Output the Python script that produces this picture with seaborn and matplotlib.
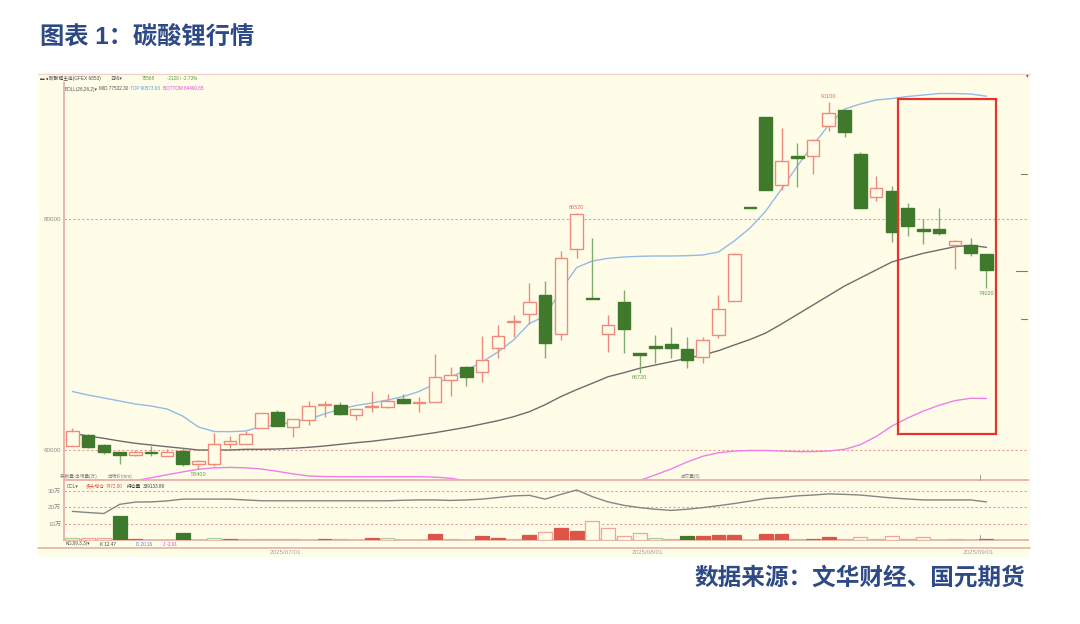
import matplotlib
matplotlib.use("Agg")
import matplotlib.pyplot as plt
from matplotlib.patches import Rectangle
from matplotlib.lines import Line2D
import seaborn as sns
import pandas as pd
import numpy as np

# ---- data ----
dates = pd.bdate_range("2025-06-12", "2025-09-02")   # 59 daily candles

opens = [60400, 61300, 60500, 59900, 59650, 59890, 59550, 59970, 58830, 58830,
         60550, 60550, 61900, 63360, 62030, 62620, 63900, 63960, 63100, 63750,
         63730, 64470, 64100, 64190, 66100, 67200, 66750, 68800, 71100, 71800,
         73420, 70090, 77350, 73200, 70030, 72850, 68440, 69000, 69230, 68720,
         68090, 69940, 72930, 81000, 88740, 82900, 85380, 85380, 88030, 89380,
         85610, 81850, 82390, 80910, 79150, 79150, 77720, 77720, 76920]
highs = [61950, 61450, 60600, 59900, 60000, 60400, 60150, 60250, 59200, 61550,
         61250, 61700, 63250, 63450, 62700, 64300, 64300, 64200, 63600, 65100,
         64900, 64900, 64600, 68290, 67240, 67250, 69850, 70850, 71650, 74420,
         74590, 77200, 80520, 78350, 71650, 73870, 68440, 69940, 70660, 69800,
         69800, 73420, 77000, 81000, 88740, 87840, 86520, 86900, 90100, 89400,
         85750, 83680, 82850, 81390, 80000, 80920, 78200, 78350, 76920]
lows = [60400, 60200, 59700, 58830, 59500, 59500, 59480, 58690, 58400, 58700,
        60200, 60550, 61900, 62100, 61170, 62200, 62880, 63100, 62620, 63300,
        63700, 64050, 63300, 64190, 64680, 65530, 65870, 68000, 69800, 70940,
        67950, 69500, 76640, 73050, 68520, 68380, 66720, 67520, 67950, 67090,
        67520, 69700, 72900, 80950, 82480, 82480, 82700, 83900, 87600, 87090,
        80900, 81540, 77970, 78490, 77780, 78630, 75640, 76780, 74020]
closes = [61700, 60300, 59830, 59650, 59890, 59750, 59890, 58830, 59060, 60600,
          60830, 61400, 63250, 62110, 62680, 63820, 64000, 63160, 63600, 63800,
          64250, 64080, 64200, 66350, 66520, 66300, 67800, 69890, 71150, 72800,
          69290, 76640, 80430, 73100, 70800, 70510, 68230, 68800, 68860, 67800,
          69510, 72220, 76920, 80950, 82480, 84980, 85210, 86810, 89090, 87460,
          80920, 82680, 78830, 79340, 78910, 78780, 78060, 77070, 75568]

# BOLL(26,26,2)
boll_mid = [61481, 61248, 61049, 60816, 60618, 60471, 60325, 60187, 60040, 60040,
            60040, 60100, 60100, 60126, 60187, 60273, 60385, 60532, 60670, 60791,
            60963, 61136, 61334, 61533, 61766, 61999, 62284, 62569, 62914, 63345,
            63950, 64650, 65250, 65800, 66366, 66711, 67091, 67376, 67661, 67954,
            68239, 68610, 69102, 69576, 70137, 70914, 71734, 72554, 73374, 74194,
            74884, 75575, 76265, 76654, 77016, 77301, 77586, 77700, 77532]
boll_top = [65089, 64787, 64528, 64269, 64010, 63837, 63578, 62974, 62025, 61636,
            61619, 61680, 62068, 62197, 62456, 62715, 63147, 63578, 63880, 64096,
            64355, 64657, 65089, 65736, 66340, 66944, 67635, 68498, 69533, 70957,
            71605, 73849, 75790, 76351, 76584, 76696, 76757, 76783, 76783, 76809,
            76869, 77128, 78077, 79199, 80666, 82565, 84550, 86362, 88088, 89469,
            89900, 90245, 90375, 90547, 90677, 90806, 90806, 90763, 90574]
boll_bottom = [56900, 57000, 57100, 57250, 57400, 57650, 57900, 58150, 58380, 58500,
               58540, 58500, 58400, 58200, 57980, 57800, 57750, 57740, 57730, 57730,
               57735, 57740, 57735, 57700, 57600, 57380, 57100, 56700, 56300, 56000,
               55700, 55400, 55200, 55500, 56100, 56700, 57400, 57900, 58400, 59000,
               59500, 59800, 59950, 60000, 60000, 59950, 59900, 59900, 59950, 60100,
               60500, 61200, 62100, 62800, 63400, 63900, 64300, 64500, 64490]

# CCL panel: open-interest change bars (万手) and their kind, open interest line (万手)
ccl_bars = [1.2, 1.2, 1.2, 14.7, 0.9, 0, 0, 4.5, 0, 1.2,
            0.9, 0.9, 0.9, 0.9, 0.9, 0, 0.9, 0.9, 0, 1.5,
            1.2, 0, 0, 3.6, 0.7, 0, 2.5, 1.5, 0.6, 2.9,
            5.0, 7.3, 5.2, 11.5, 7.3, 2.5, 4.2, 1.5, 0.6, 2.5,
            2.5, 2.9, 2.9, 0, 3.6, 3.6, 0.7, 0.9, 2.1, 0.7,
            1.9, 0.7, 2.7, 0.6, 1.7, 0, 0.7, 0, 0.7]
# R = 红实  r = 红空心  G = 绿实  g = 绿空心
ccl_kind = ['g', 'r', 'r', 'G', 'R', '', '', 'G', '', 'g',
            'R', 'g', 'g', 'r', 'g', '', 'R', 'r', '', 'R',
            'g', '', '', 'R', 'g', '', 'R', 'R', 'r', 'R',
            'r', 'R', 'R', 'r', 'r', 'r', 'r', 'g', 'g', 'G',
            'R', 'R', 'R', '', 'R', 'R', 'g', 'R', 'R', 'r',
            'r', 'g', 'r', 'r', 'r', '', 'r', '', 'R']
open_interest = [17.5, 16.8, 16.2, 21.8, 23.2, 23.3, 23.9, 25.0, 25.0, 25.0,
                 25.0, 24.5, 24.0, 24.0, 24.0, 24.0, 24.0, 24.0, 24.0, 24.0,
                 24.0, 24.3, 24.5, 24.5, 24.2, 24.5, 25.0, 26.0, 27.0, 27.3,
                 25.0, 27.9, 30.6, 26.5, 23.3, 21.2, 19.8, 18.8, 18.1, 18.8,
                 19.8, 21.0, 22.3, 23.8, 25.4, 26.0, 27.0, 27.5, 28.2, 27.9,
                 27.5, 26.6, 25.7, 25.1, 24.5, 24.5, 24.5, 24.5, 23.3]

hi_lo_marks = [(48, 90100, 'hi'), (32, 80520, 'hi'), (8, 58400, 'lo'),
               (36, 66720, 'lo'), (58, 74020, 'lo')]
date_ticks = ["2025-07-01", "2025-08-01", "2025-09-01"]

# ---- style ----
BG = '#fffde8'
RED = '#ef8a7c'
RED_SOLID = '#de5448'
GREEN = '#3f7a2c'
GREEN_LIGHT = '#a6cf98'
NAVY = '#2e4a86'
GRID = '#ef9a92'
FRAME = '#e6b2a4'
GREY_TXT = '#8c8c8c'

sns.set_style("white")
plt.rcParams['font.family'] = ['Liberation Sans', 'Noto Sans CJK SC', 'DejaVu Sans']

W, H = 1080, 624
fig = plt.figure(figsize=(W / 100, H / 100), dpi=100, facecolor='white')


def fx(px):
    return px / W


def fy(py):
    return 1 - py / H


fig.patches.append(Rectangle((fx(38), fy(557)), fx(1030) - fx(38), fy(73) - fy(557),
                             transform=fig.transFigure, facecolor=BG,
                             edgecolor='none', zorder=-5))

x = np.arange(len(dates))
o, h, l, c = map(np.asarray, (opens, highs, lows, closes))
up = c >= o

# ---- price panel ----
ax = fig.add_axes([fx(64), fy(480), fx(1028) - fx(64), fy(83) - fy(480)])
ax.set_facecolor('none')
ax.set_xlim(-0.53, 60.64)
ax.set_ylim(57451, 91713)

for level in (60000, 80000):
    ax.axhline(level, color=GRID, ls=(0, (2, 2)), lw=0.8, zorder=1)

sns.lineplot(x=x, y=boll_top, ax=ax, color='#92bbe6', lw=1, zorder=2)
sns.lineplot(x=x, y=boll_mid, ax=ax, color='#6c6c6c', lw=1, zorder=2)
sns.lineplot(x=x, y=boll_bottom, ax=ax, color='#f07ee8', lw=1, zorder=2)

body_lo = np.minimum(o, c)
body_h = np.maximum(np.abs(c - o), 90)
ax.vlines(x[up], l[up], h[up], colors=RED, lw=1, zorder=3)
ax.vlines(x[~up], l[~up], h[~up], colors='#7fae70', lw=1, zorder=3)
ax.bar(x[up], body_h[up], bottom=body_lo[up], width=0.8, facecolor=BG,
       edgecolor=RED, lw=1, zorder=4)
ax.bar(x[~up], body_h[~up], bottom=body_lo[~up], width=0.8, facecolor=GREEN,
       edgecolor=GREEN, lw=1, zorder=4)

for i, price, kind in hi_lo_marks:
    if kind == 'hi':
        ax.annotate(str(price), (i, price), xytext=(0, 2), textcoords='offset points',
                    ha='center', va='bottom', fontsize=4, color='#e06a5c')
    else:
        ax.annotate(str(price), (i, price), xytext=(0, -2), textcoords='offset points',
                    ha='center', va='top', fontsize=4, color='#5f9a4c')

ax.set_yticks([60000, 80000])
ax.set_yticklabels(['60000', '80000'])
ax.set_xticks([])
ax.tick_params(axis='y', length=0, pad=2, labelsize=4.5, labelcolor=GREY_TXT)
for s in ('top', 'right'):
    ax.spines[s].set_visible(False)
for s in ('left', 'bottom'):
    ax.spines[s].set_color(FRAME)
    ax.spines[s].set_linewidth(1.3)
ax.grid(False)

# ---- CCL panel ----
ax2 = fig.add_axes([fx(64), fy(540), fx(1028) - fx(64), fy(480) - fy(540)])
ax2.set_facecolor('none')
ax2.set_xlim(ax.get_xlim())
ax2.set_ylim(0, 36.7)
for level in (10, 20, 30):
    ax2.axhline(level, color=GRID, ls=(0, (2, 2)), lw=0.8, zorder=1)

vals = np.asarray(ccl_bars)
kinds = np.asarray(ccl_kind)
styles = {'R': (RED_SOLID, RED_SOLID), 'r': (BG, '#f0a596'),
          'G': (GREEN, GREEN), 'g': (BG, GREEN_LIGHT)}
for k, (fc, ec) in styles.items():
    m = kinds == k
    ax2.bar(x[m], vals[m], width=0.88, facecolor=fc, edgecolor=ec, lw=0.9, zorder=3)

sns.lineplot(x=x, y=open_interest, ax=ax2, color='#858585', lw=1, zorder=4)

tick_pos = [int(np.where(dates == pd.Timestamp(d))[0][0]) + 0.5 for d in date_ticks]
ax2.set_xticks(tick_pos)
ax2.set_xticklabels([d.replace('-', '/') for d in date_ticks])
ax2.set_yticks([10, 20, 30])
ax2.set_yticklabels(['10万', '20万', '30万'])
ax2.tick_params(axis='x', length=0, pad=7, labelsize=4.5, labelcolor='#a0a0a0')
ax2.tick_params(axis='y', length=0, pad=2, labelsize=4.5, labelcolor=GREY_TXT)
for s in ('top', 'right'):
    ax2.spines[s].set_visible(False)
for s in ('left', 'bottom'):
    ax2.spines[s].set_color(FRAME)
    ax2.spines[s].set_linewidth(1.3)
ax2.grid(False)

# small month marks at the last date tick, on both panel edges
for yy0, yy1 in ((475, 480), (535, 540)):
    fig.add_artist(Line2D([fx(980), fx(980)], [fy(yy0), fy(yy1)], color='#9a9a9a', lw=0.7))

# ---- frame lines, right-axis marks, highlight box ----
fig.add_artist(Line2D([fx(38), fx(1030)], [fy(74), fy(74)], color='#f0d2c6', lw=0.8))
fig.add_artist(Line2D([fx(38), fx(1030)], [fy(548), fy(548)], color=FRAME, lw=1.2))
for yy, x0 in ((174, 1021), (271, 1016), (319, 1021)):
    fig.add_artist(Line2D([fx(x0), fx(1027)], [fy(yy), fy(yy)], color='#7a7a7a', lw=0.8))
fig.patches.append(Rectangle((fx(898), fy(434)), fx(996) - fx(898), fy(99) - fy(434),
                             transform=fig.transFigure, facecolor='none',
                             edgecolor='#e8322a', lw=1.6, zorder=10))


# ---- small header texts (the screenshot's own labels are tiny) ----
def small(px, py, s, color='#555555', size=3.3):
    fig.text(fx(px), fy(py), s, fontsize=size, color=color, ha='left', va='center')


small(40, 78, '▬ ●', '#505050')
small(49, 78, '碳酸锂主连(GFEX 6853)', '#505050', 3.4)
small(110, 78, '日线▾', '#505050', 3.4)
small(142, 78, '75568', '#4f9a3c')
small(167, 78, '-2120 / -2.73%', '#4f9a3c')
small(65, 89, 'BOLL(26,26,2)▾', '#505050')
small(99, 89, 'MID 77532.30', '#505050')
small(130, 89, 'TOP 90573.93', '#5a96e0')
small(163, 89, 'BOTTOM 64490.65', '#e040e0')
small(67, 486, 'CCL▾', '#505050')
small(86, 486, '多头增仓', '#e04a3c', 3.4)
small(106, 486, '7472.00', '#e04a3c')
small(127, 486, '持仓量', '#404040', 3.4)
small(143, 486, '339133.89', '#404040')
small(66, 544, 'KDJ(9,3,3)▾', '#505050')
small(100, 544, 'K 12.47', '#404040')
small(136, 544, 'D 20.16', '#4a80e0')
small(163, 544, 'J -2.91', '#e040e0')
small(60, 476, '手数量 出场量(万)', '#808080', 3.3)
small(108, 476, '出场价(mm)', '#808080', 3.3)
small(681, 476, '成交量(5)', '#808080', 3.3)
fig.text(fx(1027), fy(76), '▾', fontsize=4, color='#d04030', ha='center', va='center')

# ---- title and source ----
fig.text(fx(40), fy(38), '图表 1：碳酸锂行情', fontsize=17.5, fontweight='bold',
         color=NAVY, ha='left', va='center')
fig.text(fx(1025), fy(578), '数据来源：文华财经、国元期货', fontsize=17,
         fontweight='bold', color=NAVY, ha='right', va='center')

fig.savefig('out.png', dpi=100, facecolor='white')
